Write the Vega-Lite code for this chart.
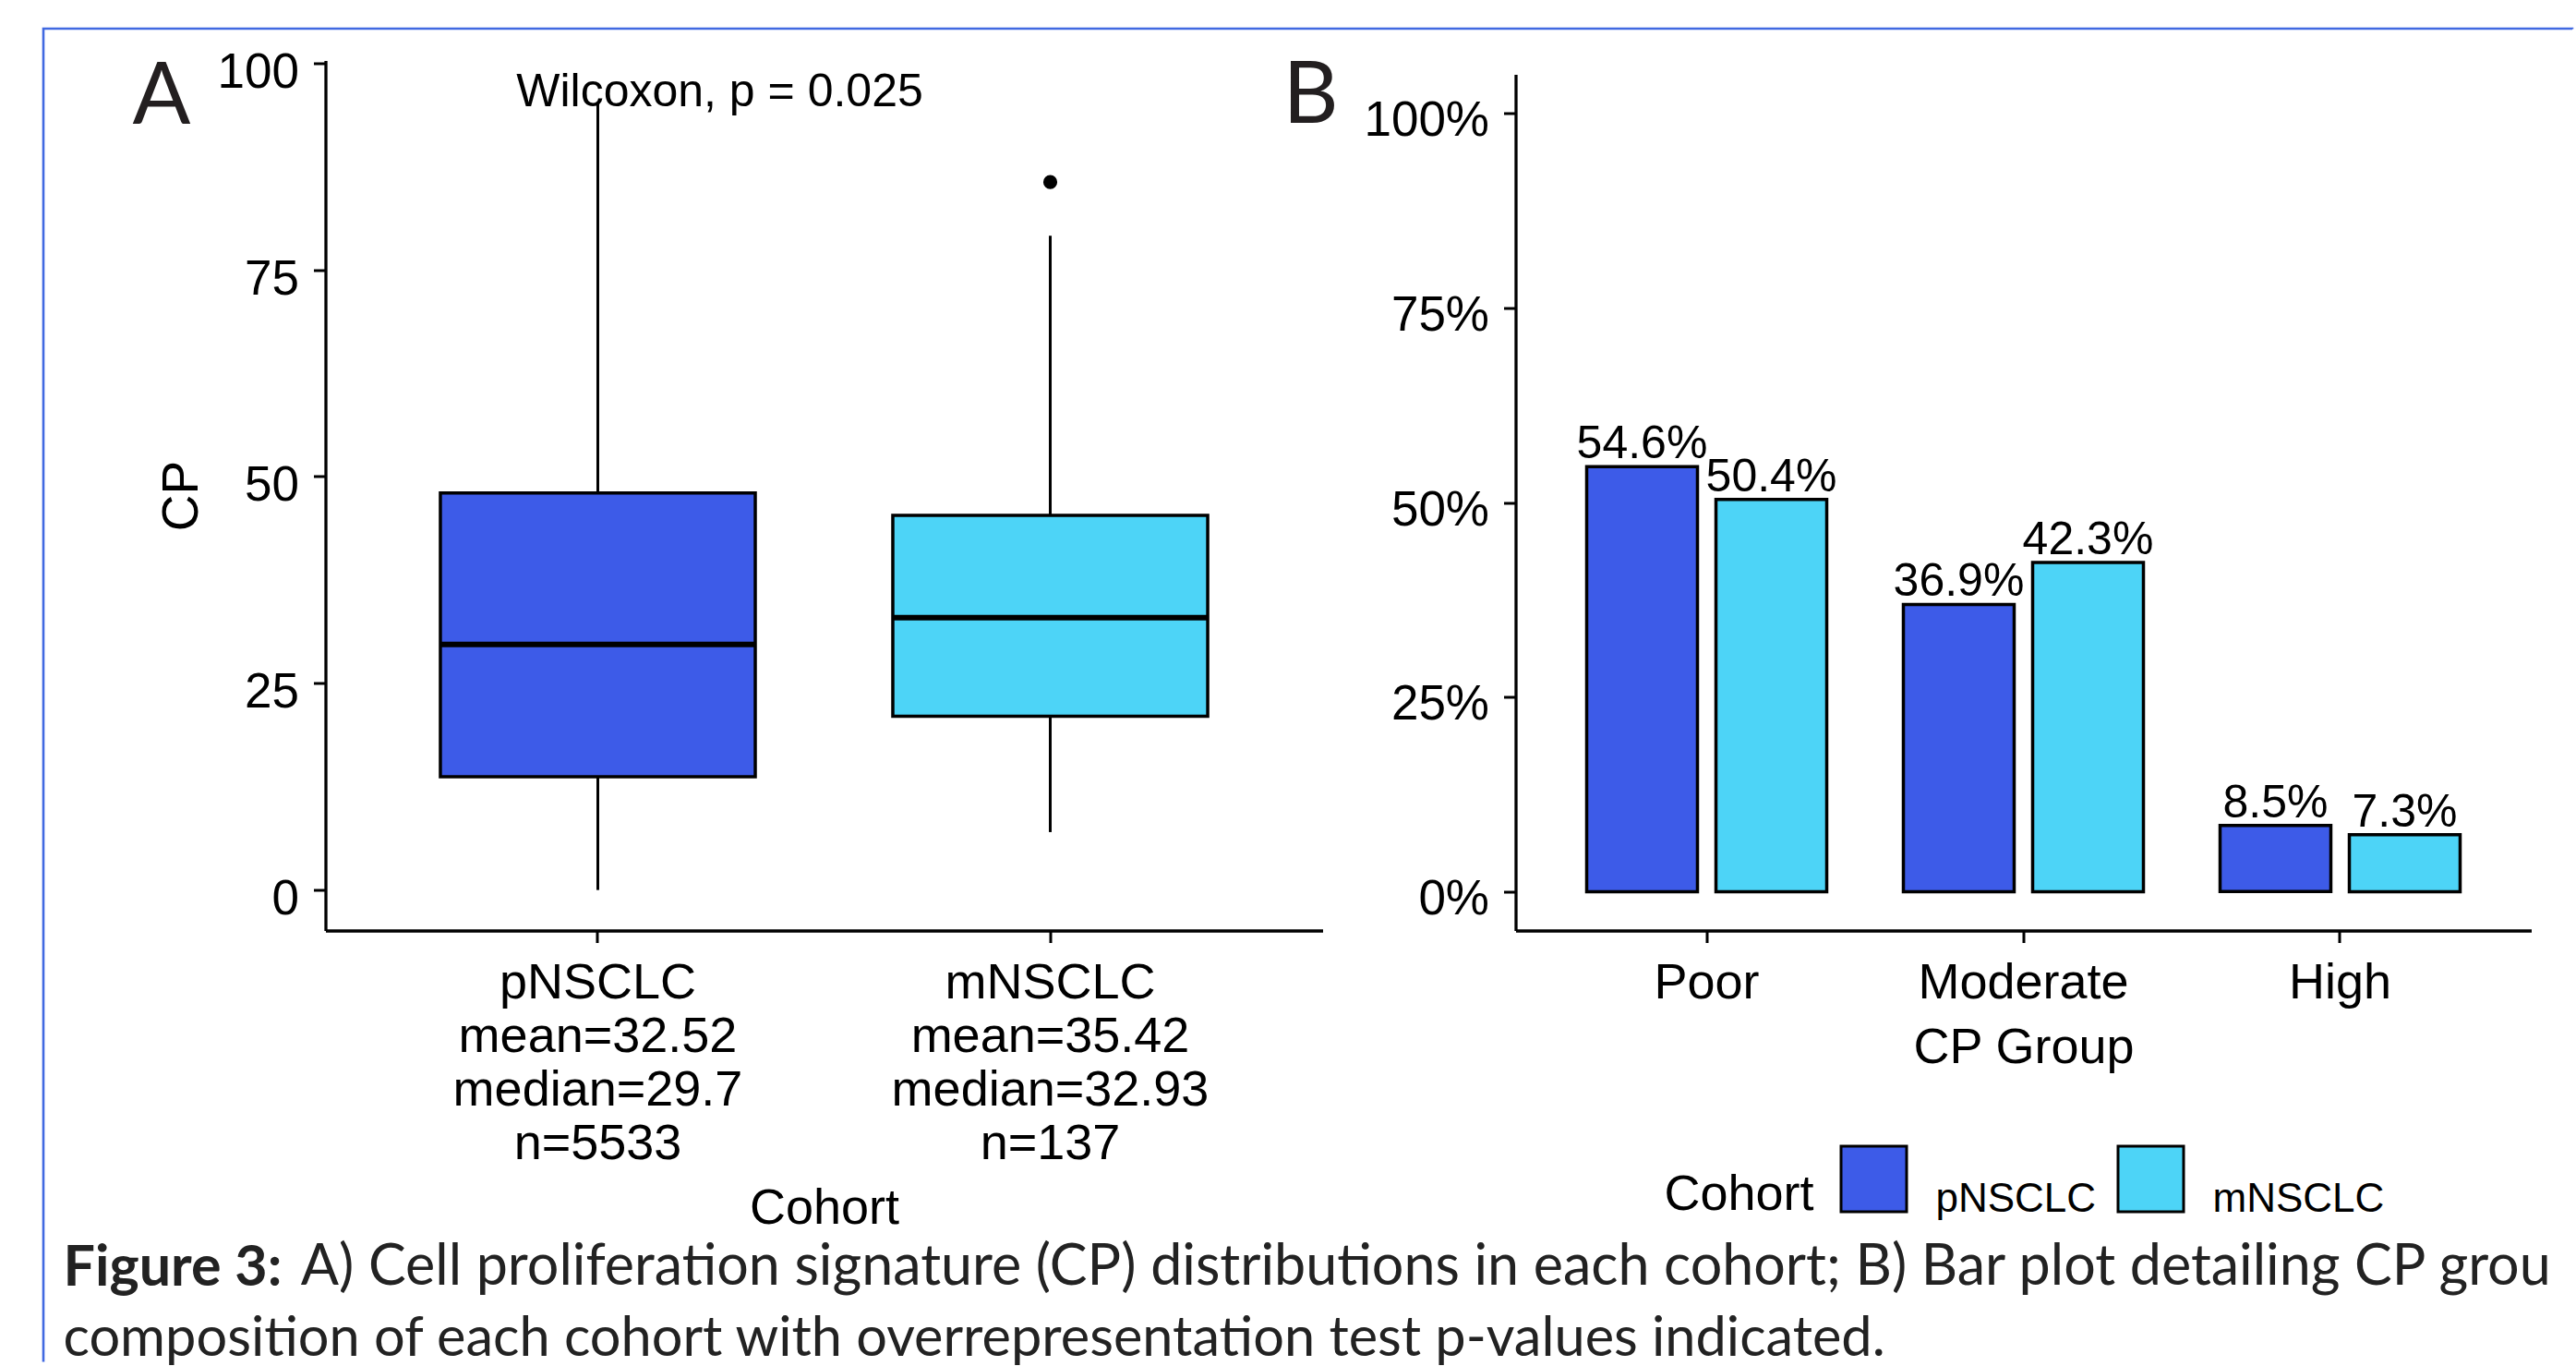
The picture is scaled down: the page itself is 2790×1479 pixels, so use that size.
{
  "$schema": "https://vega.github.io/schema/vega-lite/v6.json",
  "padding": {"left": 45.5, "top": 29.5, "right": 0, "bottom": 0},
  "background": "white",
  "datasets": {
    "box": [
      {"cohort": "pNSCLC", "lower": 0, "q1": 13.7, "median": 29.7, "q3": 48.0, "upper": 95.2},
      {"cohort": "mNSCLC", "lower": 7.0, "q1": 21.0, "median": 32.93, "q3": 45.3, "upper": 79.1}
    ],
    "outliers": [{"cohort": "mNSCLC", "CP": 85.6}],
    "note": [{"cohort": "pNSCLC", "CP": 94.8, "label": "Wilcoxon, p = 0.025"}],
    "bars": [
      {"group": "Poor", "cohort": "pNSCLC", "pct": 0.546, "label": "54.6%"},
      {"group": "Poor", "cohort": "mNSCLC", "pct": 0.504, "label": "50.4%"},
      {"group": "Moderate", "cohort": "pNSCLC", "pct": 0.369, "label": "36.9%"},
      {"group": "Moderate", "cohort": "mNSCLC", "pct": 0.423, "label": "42.3%"},
      {"group": "High", "cohort": "pNSCLC", "pct": 0.085, "label": "8.5%"},
      {"group": "High", "cohort": "mNSCLC", "pct": 0.073, "label": "7.3%"}
    ]
  },
  "title": {
    "text": "A) Cell proliferation signature (CP) distributions in each cohort; B) Bar plot detailing CP grou",
    "orient": "bottom", "anchor": "start", "dx": 280, "offset": -136.5,
    "font": "Lato", "fontSize": 61, "fontWeight": "normal", "color": "#222222"
  },
  "vconcat": [
    {
      "title": {
        "text": "Figure 3:",
        "subtitle": "composition of each cohort with overrepresentation test p-values indicated.",
        "orient": "bottom", "anchor": "start", "dx": -75, "offset": 8,
        "font": "Lato", "fontSize": 61, "fontWeight": "bold", "color": "#222222",
        "subtitleFont": "Lato", "subtitleFontSize": 59.5, "subtitleFontWeight": "normal",
        "subtitleColor": "#222222", "subtitlePadding": 16
      },
      "spacing": 209,
      "bounds": "flush",
      "resolve": {"scale": {"color": "independent"}},
      "hconcat": [
        {
          "width": 1080,
          "height": 942,
          "title": {
            "text": "A", "orient": "top", "anchor": "start", "frame": "group",
            "dx": -209, "offset": -102, "baseline": "top",
            "font": "Lato", "fontSize": 93, "fontWeight": "normal", "color": "#231f20"
          },
          "encoding": {
            "x": {
              "field": "cohort", "type": "nominal",
              "sort": ["pNSCLC", "mNSCLC"],
              "scale": {"domain": ["pNSCLC", "mNSCLC"], "paddingInner": 0.304, "paddingOuter": 0.254},
              "axis": {
                "title": "Cohort", "labelAngle": 0, "labelFontSize": 54, "labelLineHeight": 58,
                "labelPadding": 17, "labelLimit": 1000, "titleFontSize": 54, "titlePadding": 74,
                "labelExpr": "datum.value == 'pNSCLC' ? ['pNSCLC', 'mean=32.52', 'median=29.7', 'n=5533'] : ['mNSCLC', 'mean=35.42', 'median=32.93', 'n=137']"
              }
            }
          },
          "layer": [
            {
              "data": {"name": "box"},
              "mark": {"type": "rule", "color": "black", "strokeWidth": 3},
              "encoding": {
                "y": {
                  "field": "q3", "type": "quantitative", "title": "CP",
                  "scale": {"domain": [-4.9, 100.3], "nice": false, "zero": false},
                  "axis": {
                    "values": [0, 25, 50, 75, 100], "labelFontSize": 53, "labelPadding": 16,
                    "labelOffset": 10, "titleFontSize": 55, "titlePadding": 10
                  }
                },
                "y2": {"field": "upper"}
              }
            },
            {
              "data": {"name": "box"},
              "mark": {"type": "rule", "color": "black", "strokeWidth": 3},
              "encoding": {
                "y": {"field": "lower", "type": "quantitative", "title": "CP"},
                "y2": {"field": "q1"}
              }
            },
            {
              "data": {"name": "box"},
              "mark": {"type": "bar", "stroke": "black", "strokeWidth": 3.5, "opacity": 1},
              "encoding": {
                "y": {"field": "q1", "type": "quantitative", "title": "CP"},
                "y2": {"field": "q3"},
                "color": {
                  "field": "cohort", "type": "nominal",
                  "scale": {"domain": ["pNSCLC", "mNSCLC"], "range": ["#3D5BE8", "#4DD4F7"]},
                  "legend": null
                }
              }
            },
            {
              "data": {"name": "box"},
              "mark": {"type": "tick", "color": "black", "thickness": 6, "size": 341, "opacity": 1, "orient": "horizontal"},
              "encoding": {
                "y": {"field": "median", "type": "quantitative", "title": "CP"}
              }
            },
            {
              "data": {"name": "outliers"},
              "mark": {"type": "circle", "color": "black", "size": 230, "opacity": 1},
              "encoding": {
                "y": {"field": "CP", "type": "quantitative", "title": "CP"}
              }
            },
            {
              "data": {"name": "outliers"},
              "mark": {"type": "point", "opacity": 0},
              "encoding": {
                "y": {"field": "CP", "type": "quantitative", "title": "CP"},
                "shape": {
                  "field": "cohort", "type": "nominal",
                  "legend": {
                    "orient": "none", "legendX": -305.5, "legendY": -34.5,
                    "title": null, "padding": 722.5, "strokeColor": "#4169E1",
                    "symbolSize": 1, "symbolOpacity": 0, "symbolStrokeWidth": 0,
                    "labelFontSize": 1, "labelOpacity": 0, "labelOffset": 1288
                  }
                }
              }
            },
            {
              "data": {"name": "note"},
              "mark": {"type": "text", "align": "center", "baseline": "alphabetic", "dx": 132, "font": "Liberation Sans", "fontSize": 50, "color": "black"},
              "encoding": {
                "y": {"field": "CP", "type": "quantitative", "title": "CP"},
                "text": {"field": "label"}
              }
            }
          ]
        },
        {
          "width": 1100,
          "height": 942,
          "title": {
            "text": "B", "orient": "top", "anchor": "start", "frame": "group",
            "dx": -252, "offset": -87.5, "baseline": "top",
            "font": "Lato", "fontSize": 93, "fontWeight": "normal", "color": "#231f20"
          },
          "data": {"name": "bars"},
          "encoding": {
            "x": {
              "field": "group", "type": "nominal",
              "sort": ["Poor", "Moderate", "High"],
              "scale": {"domain": ["Poor", "Moderate", "High"], "paddingInner": 0.242, "paddingOuter": 0.2245},
              "axis": {
                "title": "CP Group", "labelAngle": 0, "labelFontSize": 54, "labelPadding": 17,
                "labelLimit": 1000, "titleFontSize": 54, "titlePadding": 16
              }
            },
            "xOffset": {
              "field": "cohort", "type": "nominal",
              "sort": ["pNSCLC", "mNSCLC"],
              "scale": {"domain": ["pNSCLC", "mNSCLC"], "paddingInner": 0.143, "paddingOuter": 0}
            },
            "y": {
              "field": "pct", "type": "quantitative",
              "scale": {"domain": [-0.05, 1.0681], "nice": false, "zero": false},
              "axis": {
                "title": null, "values": [0, 0.25, 0.5, 0.75, 1], "format": ".0%",
                "labelFontSize": 53, "labelPadding": 16, "labelOffset": 8,
                "domainDash": [927, 200]
              }
            }
          },
          "layer": [
            {
              "mark": {"type": "bar", "stroke": "black", "strokeWidth": 3.5, "opacity": 1},
              "encoding": {
                "y2": {"datum": 0},
                "color": {
                  "field": "cohort", "type": "nominal",
                  "scale": {"domain": ["pNSCLC", "mNSCLC"], "range": ["#3D5BE8", "#4DD4F7"]},
                  "legend": {
                    "orient": "none", "legendX": 161, "legendY": 1174,
                    "direction": "horizontal", "title": "Cohort",
                    "titleOrient": "left", "titleAnchor": "end", "titleBaseline": "bottom",
                    "titlePadding": 27, "titleFontSize": 54, "titleFont": "Liberation Sans",
                    "titleColor": "black", "titleFontWeight": "normal",
                    "labelFontSize": 44, "labelFont": "Liberation Sans", "labelColor": "black",
                    "labelBaseline": "top",
                    "labelOffset": 30, "columnPadding": 17, "labelLimit": 500,
                    "symbolType": "square", "symbolSize": 5041,
                    "symbolStrokeColor": "black", "symbolStrokeWidth": 3, "symbolOpacity": 1,
                    "padding": 0
                  }
                }
              }
            },
            {
              "mark": {"type": "text", "align": "center", "baseline": "alphabetic", "dy": -9, "font": "Liberation Sans", "fontSize": 50, "color": "black"},
              "encoding": {
                "text": {"field": "label"}
              }
            }
          ]
        }
      ]
    }
  ],
  "config": {
    "font": "Liberation Sans",
    "view": {"stroke": null},
    "legend": {"strokeDash": [2739.5, 4187, 1447.5], "strokeWidth": 2.6},
    "axis": {
      "grid": false, "domainColor": "black", "domainWidth": 3.3,
      "tickColor": "black", "tickWidth": 3, "tickSize": 13,
      "labelColor": "black", "titleColor": "black", "titleFontWeight": "normal",
      "labelFont": "Liberation Sans", "titleFont": "Liberation Sans"
    }
  }
}
